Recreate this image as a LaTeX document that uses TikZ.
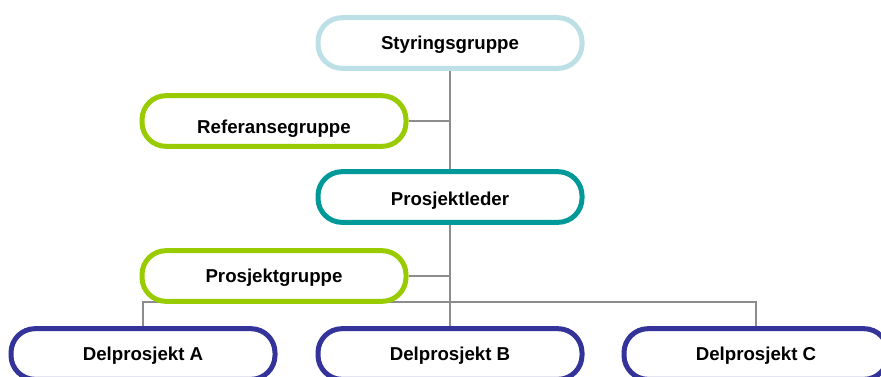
\documentclass[tikz,border=0pt]{standalone}
\usepackage{fontspec}
\setmainfont{Liberation Sans}
\usetikzlibrary{positioning,backgrounds}
\definecolor{styr}{HTML}{BDE0E6}
\definecolor{lime}{HTML}{99CC00}
\definecolor{teal}{HTML}{009999}
\definecolor{navy}{HTML}{333399}
\definecolor{wire}{HTML}{8C8C8C}
\tikzset{
  pill/.style  ={draw, fill=white, line width=3.75pt, rounded corners=18pt,
                 minimum width=198pt, minimum height=38pt, align=center,
                 font=\fontsize{14pt}{16pt}\selectfont\bfseries,
                 text height=10pt, text depth=0pt},
  toppill/.style={pill, draw=styr},
  sidepill/.style={pill, draw=lime},
  leadpill/.style={pill, draw=teal},
  subpill/.style={pill, draw=navy},
  link/.style  ={draw=wire, line width=1.1pt},
}

\begin{document}
\begin{tikzpicture}[x=0.75pt, y=-0.75pt]
    \useasboundingbox (0,0) rectangle (881,376);
    \node[toppill]  (styr) at (450,43)  {Styringsgruppe};
    \node[sidepill, text height=19pt] (ref) at (274,121) {Referansegruppe};
    \node[leadpill, text height=13pt] (leder) at (450,197) {Prosjektleder};
    \node[sidepill] (grp) at (274,276) {Prosjektgruppe};
    \node[subpill]  (A) at (143,354) {Delprosjekt A};
    \node[subpill]  (B) at (450,354) {Delprosjekt B};
    \node[subpill]  (C) at (756,354) {Delprosjekt C};
    \coordinate (bus) at (450,302);
    % connectors run behind the boxes
    \begin{scope}[on background layer]
      \draw[link] (styr.south) -- (leder.north);
      \draw[link] (ref.east) -- (ref.east -| styr.south);
      \draw[link] (leder.south) -- (B.north);
      \draw[link] (grp.east) -- (grp.east -| leder.south);
      \draw[link] (A.north) |- (bus) -| (C.north);
    \end{scope}
  \end{tikzpicture}
\end{document}
